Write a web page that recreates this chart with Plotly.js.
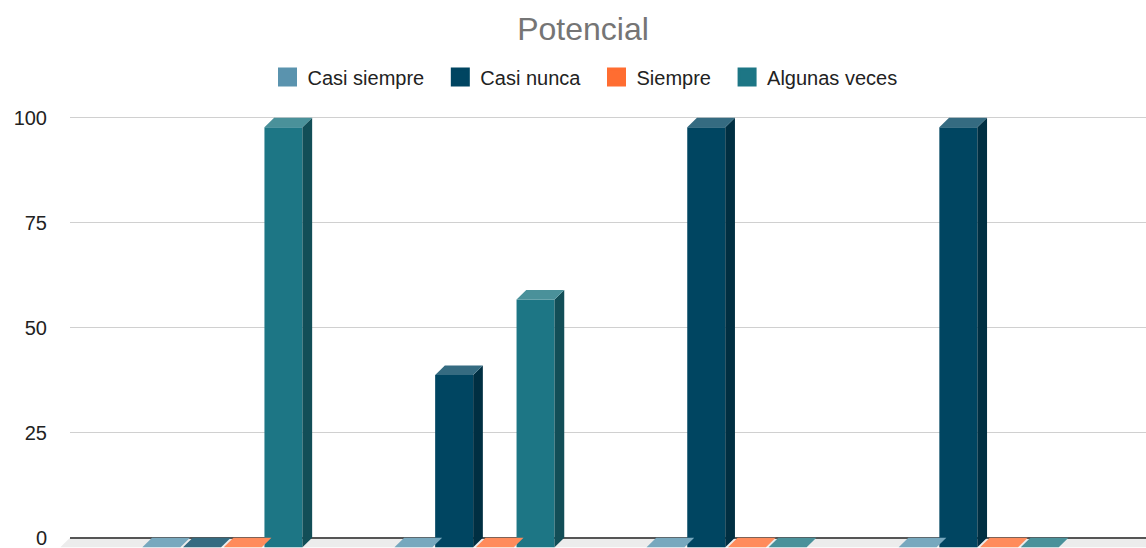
<!DOCTYPE html>
<html>
<head>
<meta charset="utf-8">
<script src="https://cdn.plot.ly/plotly-3.0.1.min.js"></script>
<style>html,body{margin:0;padding:0;background:#fff;}#chart{width:1146px;height:548px;}</style>
</head>
<body>
<div id="chart"></div>
<script>
// ---- Data ----
const categories = ['1', '2', '3', '4'];
const seriesNames = ['Casi siempre', 'Casi nunca', 'Siempre', 'Algunas veces'];
const casiSiempre = [0, 0, 0, 0];
const casiNunca = [0, 41, 100, 100];
const siempre = [0, 0, 0, 0];
const algunasVeces = [100, 59, 0, 0];
const yTicks = [0, 25, 50, 75, 100];
const chartTitle = 'Potencial';

// ---- Styles ----
const frontColors = ['#5a93ae', '#004561', '#ff6d31', '#1d7685'];
const sideColors  = ['#3e6a7e', '#002f42', '#b84e22', '#124e57'];
const topColors   = ['#77a8be', '#356b81', '#ff8b5b', '#4a919a'];
const FONT = 'Liberation Sans, Arial, sans-serif';

const W = 1146, H = 548, mL = 70, mR = 0, mT = 105, mB = 0;
const pxPerX = 252.1, frontCenter0 = 222.4;
const pxPerY = 4.2, zeroPx = 537.7;
const xRange = [-(frontCenter0 - mL) / pxPerX, (W - mR - frontCenter0) / pxPerX];
const yRange = [(zeroPx - (H - mB)) / pxPerY, (zeroPx - mT) / pxPerY];
const dxU = 9.7 / pxPerX, dyU = 9.6 / pxPerY;
const bw = 38 / pxPerX, pitch = 40.7 / pxPerX;

const allSeries = [casiSiempre, casiNunca, siempre, algunasVeces];
const xIdx = categories.map((c, i) => i);

const traces = [];
// front faces (bars)
allSeries.forEach((vals, s) => {
  const off = (s - 2) * pitch + (pitch - bw) / 2;
  traces.push({
    type: 'bar', x: xIdx, y: vals, base: vals.map(() => -dyU),
    width: bw, offset: off, name: seriesNames[s], showlegend: false,
    marker: {color: frontColors[s], line: {width: 0}}, hoverinfo: 'skip'
  });
});
// side and top faces
allSeries.forEach((vals, s) => {
  const off = (s - 2) * pitch + (pitch - bw) / 2;
  const tx = [], ty = [], sx = [], sy = [];
  vals.forEach((v, g) => {
    const xl = g + off;
    tx.push(xl, xl + bw, xl + bw + dxU, xl + dxU, xl, null);
    ty.push(v - dyU, v - dyU, v, v, v - dyU, null);
    if (v > 0) {
      sx.push(xl + bw, xl + bw + dxU, xl + bw + dxU, xl + bw, xl + bw, null);
      sy.push(v - dyU, v, 0, -dyU, v - dyU, null);
    }
  });
  if (sx.length) traces.push({type: 'scatter', mode: 'lines', x: sx, y: sy, fill: 'toself',
    fillcolor: sideColors[s], line: {width: 0, color: sideColors[s]}, showlegend: false, hoverinfo: 'skip'});
  traces.push({type: 'scatter', mode: 'lines', x: tx, y: ty, fill: 'toself',
    fillcolor: topColors[s], line: {width: 0, color: topColors[s]}, showlegend: false, hoverinfo: 'skip'});
});
// legend entries
seriesNames.forEach((n, s) => {
  traces.push({type: 'scatter', mode: 'markers', x: [null], y: [null],
    name: n + (s < seriesNames.length - 1 ? '\u00a0\u00a0' : ''),
    marker: {symbol: 'square', size: 16, color: frontColors[s], line: {width: 3, color: frontColors[s]}},
    hoverinfo: 'skip'});
});

const layout = {
  width: W, height: H,
  margin: {l: mL, r: mR, t: mT, b: mB, pad: 0},
  paper_bgcolor: '#ffffff', plot_bgcolor: '#ffffff',
  font: {family: FONT, color: '#222222'},
  title: {text: chartTitle, font: {family: FONT, size: 32, color: '#757575'},
    x: 583 / W, xref: 'container', xanchor: 'center',
    y: 1 - 29 / H, yref: 'container', yanchor: 'middle'},
  showlegend: true,
  legend: {orientation: 'h', x: (585 - mL) / (W - mL - mR), xanchor: 'center',
    y: (H - mB - 77) / (H - mT - mB), yanchor: 'middle',
    font: {family: FONT, size: 20, color: '#222222'}, bgcolor: 'rgba(0,0,0,0)'},
  barmode: 'overlay',
  xaxis: {range: xRange, showticklabels: false, showgrid: false, zeroline: false,
    showline: false, ticks: '', fixedrange: true},
  yaxis: {range: yRange, tickvals: yTicks, ticktext: yTicks.map(String),
    tickfont: {family: FONT, size: 20, color: '#222222'}, ticklabelstandoff: 22,
    ticklabeloverflow: 'allow',
    showgrid: true, gridcolor: '#d0d0d0', gridwidth: 1.3,
    zeroline: true, zerolinecolor: '#555555', zerolinewidth: 2,
    showline: false, ticks: '', fixedrange: true},
  shapes: [{type: 'path', xref: 'paper', yref: 'y', layer: 'below',
    path: 'M ' + (-9.7 / (W - mL - mR)) + ',' + (-dyU) + ' L 1,' + (-dyU) + ' L 1,0 L 0,0 Z',
    fillcolor: '#ececec', line: {width: 0}}]
};

Plotly.newPlot('chart', traces, layout, {staticPlot: true, displayModeBar: false});
</script>
</body>
</html>
